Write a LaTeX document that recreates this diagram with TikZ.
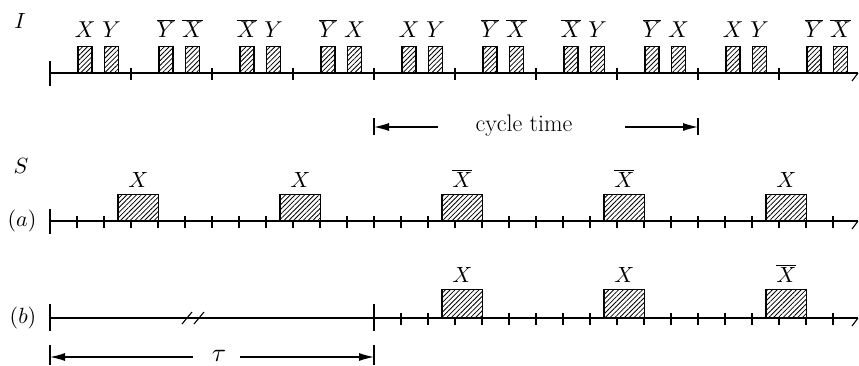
\documentclass[tikz,border=0pt]{standalone}
\DeclareFontShape{OML}{cmm}{m}{it}{<->cmmi10}{}
\DeclareFontShape{OT1}{cmr}{m}{n}{<->cmr10}{}
\usetikzlibrary{patterns.meta,arrows.meta}
\begin{document}
\begin{tikzpicture}[x=1pt,y=-1pt,
  axis/.style={line width=2pt},
  tk/.style={line width=1.1pt},
  pulse/.style={draw,line width=1.3pt,fill=white,inner sep=0pt,anchor=south,
    postaction={pattern={Lines[angle=45,distance=3.4pt,line width=0.8pt]}}},
  lbl/.style={font=\fontsize{22}{26}\selectfont,anchor=base,inner sep=0pt},
  toplbl/.style={lbl,font=\fontsize{23}{27}\selectfont},
  side/.style={font=\fontsize{22}{26}\selectfont,inner sep=0pt},
  dim/.style={line width=1.2pt,-{Latex[length=15pt,width=8pt]}},
  bar/.style={line width=1.2pt}]
\useasboundingbox (0,0) rectangle (859,365);

% ---------------- I row ----------------
\node[side,anchor=base] (lI) at (20,28) {$I$};
\coordinate (I0) at (50,73);
\coordinate (I1) at (858,73);
\draw[axis] (I0) -- (I1);
\draw[tk] (I1) -- ++(-6,8);
\draw[tk] (50,61) -- (50,86);
\foreach \k in {1,...,9} \draw[tk] (50+81*\k,68) -- (50+81*\k,80);
\foreach \k/\a/\b in {0/X/Y,1/\overline{Y}/\overline{X},2/\overline{X}/Y,3/\overline{Y}/X,
  4/X/Y,5/\overline{Y}/\overline{X},6/\overline{X}/Y,7/\overline{Y}/X,8/X/Y,9/\overline{Y}/\overline{X}}{
  \node[pulse,minimum width=14pt,minimum height=26pt] (pa\k) at (85+81*\k,73) {};
  \node[pulse,minimum width=14pt,minimum height=26pt] (pb\k) at (111.5+81*\k,73) {};
  \node[toplbl] (la\k) at (85+81*\k,37) {$\a$};
  \node[toplbl] (lb\k) at (111.5+81*\k,37) {$\b$};
}

% ---------------- cycle time ----------------
\node[font=\fontsize{24}{28}\selectfont,inner sep=0pt] (ct) at (524,126) {cycle time};
\coordinate (cL) at (374,127);
\coordinate (cR) at (698,127);
\coordinate (cLs) at (438,127);
\coordinate (cRs) at (625,127);
\draw[bar] (374,118) -- (374,135);
\draw[bar] (698,118) -- (698,135);
\draw[dim] (cLs) -- (cL);
\draw[dim] (cRs) -- (cR);

% ---------------- S (a) ----------------
\node[side,anchor=base] (lS) at (21,173) {$S$};
\node[side] (la) at (22,221) {$(a)$};
\coordinate (A0) at (50,221);
\coordinate (A1) at (858,221);
\draw[axis] (A0) -- (A1);
\draw[tk] (A1) -- ++(-6,8);
\draw[tk] (50,209) -- (50,234);
\foreach \j in {1,...,29} \draw[tk] (50+27*\j,216) -- (50+27*\j,228);
\foreach \k/\t in {0/X,1/X,2/\overline{X},3/\overline{X},4/X}{
  \node[pulse,minimum width=40.5pt,minimum height=26pt] (sa\k) at (138.25+162*\k,221) {};
  \node[lbl] (sal\k) at (138.25+162*\k,187) {$\t$};
}

% ---------------- (b) ----------------
\node[side] (lb) at (23,318) {$(b)$};
\coordinate (B0) at (50,318);
\coordinate (B1) at (858,318);
\draw[axis] (B0) -- (B1);
\draw[tk] (B1) -- ++(-6,8);
\draw[tk] (50,304) -- (50,331);
\draw[tk] (374,304) -- (374,331);
\draw[tk] (182,324) -- (192,312);
\draw[tk] (194,324) -- (204,312);
\foreach \j in {13,...,29} \draw[tk] (50+27*\j,313) -- (50+27*\j,325);
\foreach \k/\t in {2/X,3/X,4/\overline{X}}{
  \node[pulse,minimum width=40.5pt,minimum height=28pt] (sb\k) at (138.25+162*\k,318) {};
  \node[lbl] (sbl\k) at (138.25+162*\k,282) {$\t$};
}

% ---------------- tau ----------------
\node[font=\fontsize{26}{30}\selectfont,inner sep=0pt] (tau) at (219,356) {$\tau$};
\coordinate (tL) at (50,357);
\coordinate (tR) at (374,357);
\coordinate (tLs) at (193,357);
\coordinate (tRs) at (240,357);
\draw[bar] (50,345) -- (50,365);
\draw[bar] (374,345) -- (374,365);
\draw[dim] (tLs) -- (tL);
\draw[dim] (tRs) -- (tR);
\end{tikzpicture}
\end{document}
